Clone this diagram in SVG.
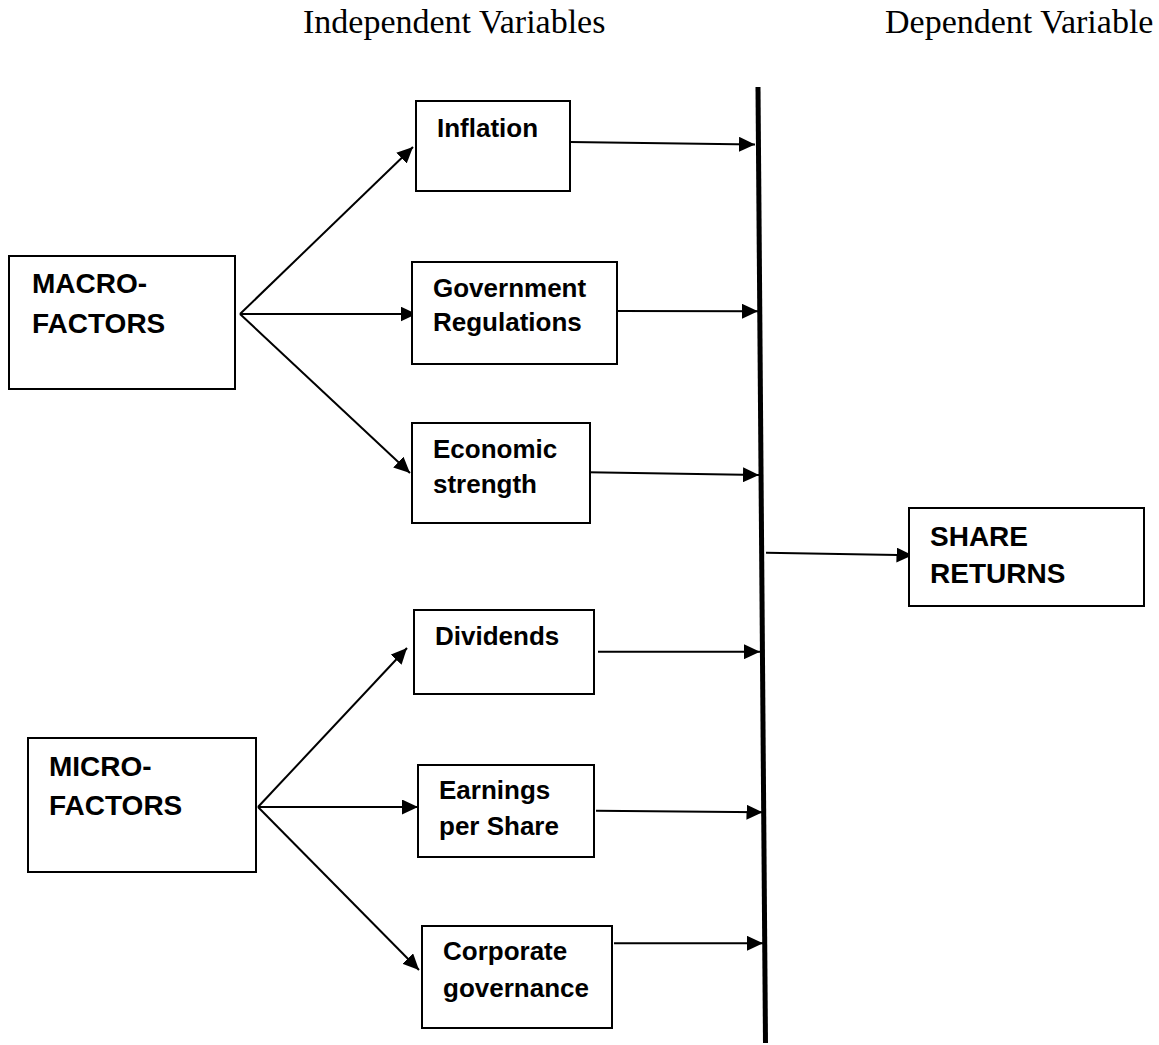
<svg xmlns="http://www.w3.org/2000/svg" width="1159" height="1045" viewBox="0 0 1159 1045">
<defs>
<style>
.box{fill:#fff;stroke:#000;stroke-width:2}
.lbl{font-family:"Liberation Sans",Arial,sans-serif;font-weight:bold;font-size:26px;fill:#000}
.big{font-size:28px}
.hdr{font-family:"Liberation Serif","Times New Roman",serif;font-size:34px;fill:#000}
.con{stroke:#000;stroke-width:2;fill:none;marker-end:url(#ah)}
</style>
<marker id="ah" markerUnits="userSpaceOnUse" markerWidth="16" markerHeight="15" refX="16" refY="7.5" orient="auto">
<path d="M0,0 L16,7.5 L0,15 Z" fill="#000"/>
</marker>
</defs>
<rect width="1159" height="1045" fill="#fff"/>
<g id="headers">
<text class="hdr" x="303" y="33">Independent Variables</text>
<text class="hdr" x="885" y="33">Dependent Variable</text>
</g>
<g id="connectors">
<line x1="758" y1="87" x2="765.5" y2="1043" stroke="#000" stroke-width="5"/>
<line class="con" x1="240" y1="314" x2="413" y2="147"/>
<line class="con" x1="240" y1="314" x2="416.5" y2="314"/>
<line class="con" x1="240" y1="314" x2="410" y2="473"/>
<line class="con" x1="258" y1="807" x2="407" y2="648"/>
<line class="con" x1="258" y1="807" x2="418" y2="807"/>
<line class="con" x1="258" y1="807" x2="419" y2="970"/>
<line class="con" x1="570" y1="142" x2="755" y2="144.5"/>
<line class="con" x1="617" y1="311" x2="758" y2="311.3"/>
<line class="con" x1="588" y1="472.3" x2="759" y2="475"/>
<line class="con" x1="598" y1="651.7" x2="760" y2="651.7"/>
<line class="con" x1="596" y1="810.7" x2="762.5" y2="812.3"/>
<line class="con" x1="614" y1="943.3" x2="763" y2="943.3"/>
<line class="con" x1="766" y1="552.7" x2="912.5" y2="555.3"/>
</g>
<g id="macro">
<rect class="box" x="9" y="256" width="226" height="133"/>
<text class="lbl big" x="32" y="293">MACRO-</text>
<text class="lbl big" x="32" y="333">FACTORS</text>
</g>
<g id="micro">
<rect class="box" x="28" y="738" width="228" height="134"/>
<text class="lbl big" x="49" y="776">MICRO-</text>
<text class="lbl big" x="49" y="815">FACTORS</text>
</g>
<g id="inflation">
<rect class="box" x="416" y="101" width="154" height="90"/>
<text class="lbl" x="437" y="137">Inflation</text>
</g>
<g id="government">
<rect class="box" x="412" y="262" width="205" height="102"/>
<text class="lbl" x="433" y="297">Government</text>
<text class="lbl" x="433" y="331">Regulations</text>
</g>
<g id="economic">
<rect class="box" x="412" y="423" width="178" height="100"/>
<text class="lbl" x="433" y="458">Economic</text>
<text class="lbl" x="433" y="493">strength</text>
</g>
<g id="dividends">
<rect class="box" x="414" y="610" width="180" height="84"/>
<text class="lbl" x="435" y="645">Dividends</text>
</g>
<g id="earnings">
<rect class="box" x="418" y="765" width="176" height="92"/>
<text class="lbl" x="439" y="799">Earnings</text>
<text class="lbl" x="439" y="835">per Share</text>
</g>
<g id="corporate">
<rect class="box" x="422" y="926" width="190" height="102"/>
<text class="lbl" x="443" y="960">Corporate</text>
<text class="lbl" x="443" y="997">governance</text>
</g>
<g id="share-returns">
<rect class="box" x="909" y="508" width="235" height="98"/>
<text class="lbl big" x="930" y="546">SHARE</text>
<text class="lbl big" x="930" y="583">RETURNS</text>
</g>
</svg>
